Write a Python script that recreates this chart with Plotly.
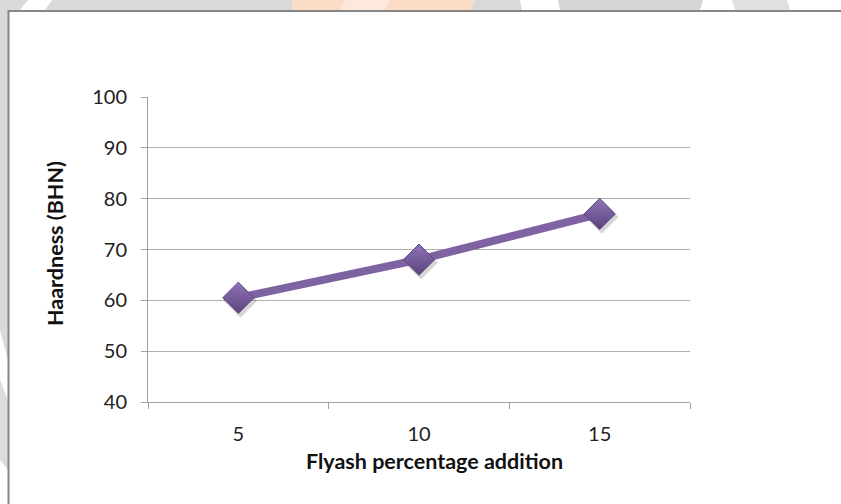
import plotly.graph_objects as go

# Hardness vs. fly-ash content
flyash_pct = ["5", "10", "15"]
hardness_bhn = [60.5, 68.0, 77.0]
y_ticks = [40, 50, 60, 70, 80, 90, 100]

W, H = 841, 504
ML, MR, MT, MB = 148, 151, 97, 102
PW, PH = W - ML - MR, H - MT - MB

X_RANGE = [-0.5, 2.5]
Y_RANGE = [40, 100]


def px(x):
    return (x - ML) / PW


def py(y):
    return (H - MB - y) / PH


def poly(points):
    return "M " + " L ".join(f"{px(a):.5f},{py(b):.5f}" for a, b in points) + " Z"


shapes = []
# faint watermark band behind the chart frame
band = [
    ([(0, 0), (28, 0), (20, 10), (0, 10)], "#d9d9d9"),
    ([(52, 0), (292, 0), (292, 10), (45, 10)], "#d9d9d9"),
    ([(292, 0), (475, 0), (470, 10), (292, 10)], "#fbdcc6"),
    ([(345, 0), (390, 0), (385, 10), (340, 10)], "#fde9dc"),
    ([(475, 0), (520, 0), (522, 10), (470, 10)], "#d9d9d9"),
    ([(558, 0), (703, 0), (700, 10), (560, 10)], "#d6d6d6"),
    ([(732, 0), (787, 0), (790, 10), (735, 10)], "#e0e0e0"),
    ([(0, 10), (8, 10), (8, 360), (0, 330)], "#d9d9d9"),
    ([(0, 380), (8, 400), (8, 470), (0, 460)], "#dcdcdc"),
]
for pts, col in band:
    shapes.append(dict(type="path", path=poly(pts), xref="paper", yref="paper",
                       fillcolor=col, line=dict(width=0), layer="below"))
# chart frame
shapes.append(dict(type="rect", xref="paper", yref="paper",
                   x0=px(8.5), y0=py(520), x1=px(860), y1=py(11),
                   fillcolor="white", line=dict(color="#868686", width=2),
                   layer="below"))

# soft drop shadow: same markers on a twin axis pair nudged right/down a few px
dx = 2 * (X_RANGE[1] - X_RANGE[0]) / PW
dy = 3 * (Y_RANGE[1] - Y_RANGE[0]) / PH
shadow_x_range = [X_RANGE[0] - dx, X_RANGE[1] - dx]
shadow_y_range = [Y_RANGE[0] + dy, Y_RANGE[1] + dy]

fig = go.Figure()
# invisible carrier so the visible axis pair (x, y) is laid out with its grid
fig.add_trace(go.Scatter(
    x=flyash_pct, y=hardness_bhn, mode="lines",
    line=dict(color="rgba(0,0,0,0)", width=0),
    showlegend=False, hoverinfo="skip",
))
fig.add_trace(go.Scatter(
    x=flyash_pct, y=hardness_bhn, mode="markers", xaxis="x2", yaxis="y2",
    marker=dict(symbol="diamond", size=26, color="rgba(0,0,0,0.16)",
                line=dict(width=0)),
    showlegend=False, cliponaxis=False, hoverinfo="skip",
))
fig.add_trace(go.Scatter(
    x=flyash_pct, y=hardness_bhn, mode="lines+markers", xaxis="x3", yaxis="y3",
    line=dict(color="#7e62a1", width=8),
    marker=dict(symbol="diamond", size=24, color="#9074b6",
                gradient=dict(type="vertical", color="#5c437d"),
                line=dict(color="#5c4680", width=1)),
    showlegend=False, cliponaxis=False,
))

tick_font = dict(family="Lato, sans-serif", size=20, color="#222222")
title_font = dict(family="Lato, sans-serif", size=21.5, color="#111111")

hidden_x = dict(type="category", showgrid=False, showline=False, ticks="",
                showticklabels=False, zeroline=False)
hidden_y = dict(showgrid=False, showline=False, ticks="",
                showticklabels=False, zeroline=False)

fig.update_layout(
    width=W, height=H,
    margin=dict(l=ML, r=MR, t=MT, b=MB),
    paper_bgcolor="white", plot_bgcolor="rgba(0,0,0,0)",
    shapes=shapes,
    xaxis=dict(type="category", range=X_RANGE, tickson="boundaries",
               categoryarray=flyash_pct,
               ticks="outside", ticklen=6, tickcolor="#a0a0a0",
               showline=True, linecolor="#a0a0a0", linewidth=1,
               showgrid=False, tickfont=tick_font, ticklabelstandoff=14,
               zeroline=False),
    yaxis=dict(range=Y_RANGE, tickvals=y_ticks, ticks="outside", ticklen=6,
               tickcolor="#a0a0a0", showline=True, linecolor="#a0a0a0",
               linewidth=1, showgrid=True, gridcolor="#b0b0b0", gridwidth=1,
               tickfont=tick_font, ticklabelstandoff=10, zeroline=False),
    xaxis2=dict(hidden_x, range=shadow_x_range, anchor="y2",
                categoryarray=flyash_pct),
    yaxis2=dict(hidden_y, range=shadow_y_range, anchor="x2"),
    xaxis3=dict(hidden_x, range=X_RANGE, anchor="y3", categoryarray=flyash_pct),
    yaxis3=dict(hidden_y, range=Y_RANGE, anchor="x3"),
    annotations=[
        dict(text="<b>Flyash percentage addition</b>", xref="paper", yref="paper",
             x=px(434), y=py(461), showarrow=False, font=title_font,
             xanchor="center", yanchor="middle"),
        dict(text="<b>Haardness (BHN)</b>", xref="paper", yref="paper",
             x=px(55), y=py(244), showarrow=False, font=title_font,
             textangle=-90, xanchor="center", yanchor="middle"),
    ],
)

fig.write_html("out.html")
